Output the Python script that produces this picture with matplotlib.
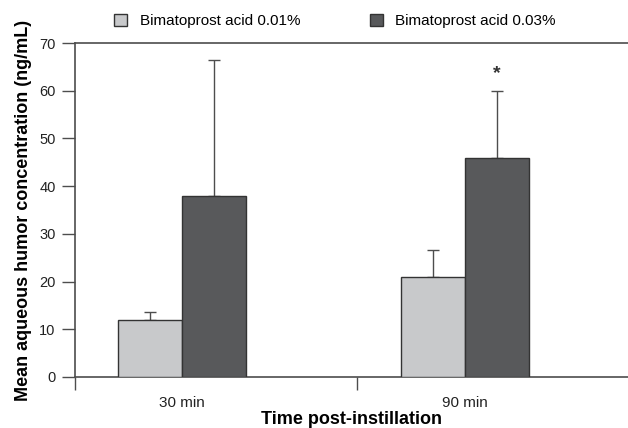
import matplotlib
matplotlib.use("Agg")
import matplotlib.pyplot as plt
import numpy as np

groups = ["30 min", "90 min"]
series = ["Bimatoprost acid 0.01%", "Bimatoprost acid 0.03%"]
low_mean = [12.0, 21.0]
low_err = [1.7, 5.6]
high_mean = [38.0, 46.0]
high_err = [28.4, 14.0]
star_group = 1
y_ticks = [0, 10, 20, 30, 40, 50, 60, 70]

plt.rcParams["font.family"] = ["Liberation Sans", "DejaVu Sans"]
LINE = "#4d4d4d"
LIGHT = "#c8c9cb"
DARK = "#58595b"

fig = plt.figure(figsize=(6.28, 4.28), dpi=100)
ax = fig.add_axes([0.1194, 0.1192, 0.8806, 0.7803])

x = np.arange(len(groups))
w = 0.226
ax.bar(x - w / 2, low_mean, w, color=LIGHT, edgecolor="#333333", linewidth=1.0, zorder=3)
ax.bar(x + w / 2, high_mean, w, color=DARK, edgecolor="#333333", linewidth=1.0, zorder=3)
ax.errorbar(x - w / 2, low_mean, yerr=[np.zeros(2), low_err], fmt="none",
            ecolor=LINE, elinewidth=1.0, capsize=4, capthick=1.0, zorder=2)
ax.errorbar(x + w / 2, high_mean, yerr=[np.zeros(2), high_err], fmt="none",
            ecolor=LINE, elinewidth=1.0, capsize=4, capthick=1.0, zorder=2)
ax.text(star_group + w / 2, high_mean[star_group] + high_err[star_group] + 3.6, "*",
        ha="center", va="center", fontsize=14, fontweight="bold", color="#333333")

x_left, x_right = -0.378, 1.576
ax.set_xlim(x_left, x_right)
ax.set_ylim(0, 70)
ax.set_yticks(y_ticks)
ax.set_xticks(x)
ax.set_xticklabels(groups)
ax.set_xticks([x_left, 0.618], minor=True)
ax.tick_params(axis="x", which="major", length=0, pad=14, labelsize=11, colors="#222222")
ax.tick_params(axis="x", which="minor", length=9.4, width=1.0, color=LINE)
ax.tick_params(axis="y", length=9.4, width=1.0, color=LINE, pad=4.5, labelsize=10.5,
               labelcolor="#222222")
for side in ["left", "bottom", "top"]:
    ax.spines[side].set_color(LINE)
    ax.spines[side].set_linewidth(1.2)
ax.spines["right"].set_visible(False)

ax.set_ylabel("Mean aqueous humor concentration (ng/mL)", fontsize=13,
              fontweight="bold", labelpad=5)
ax.set_xlabel("Time post-instillation", fontsize=13, fontweight="bold", labelpad=0.5)

handles = [plt.Rectangle((0, 0), 1, 1, facecolor=c, edgecolor="#333333", linewidth=1.0)
           for c in (LIGHT, DARK)]
fig.legend(handles, series, loc="center left", bbox_to_anchor=(0.182, 0.951), ncol=2,
           frameon=False, fontsize=11, handlelength=0.8, handleheight=0.8,
           columnspacing=4.6, handletextpad=0.85, borderaxespad=0, borderpad=0)

fig.savefig("out.png", dpi=100)
